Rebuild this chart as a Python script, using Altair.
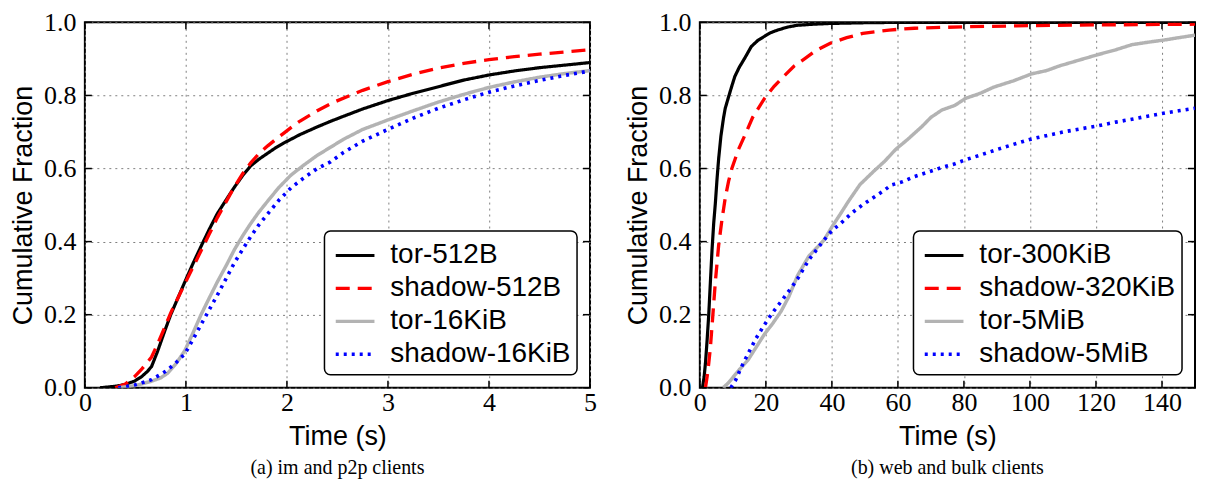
import altair as alt
import pandas as pd

# ---------------- data: panel (a) ----------------
series_a = ["tor-512B", "shadow-512B", "tor-16KiB", "shadow-16KiB"]

tor512_t = [0.15, 0.30, 0.40, 0.49, 0.56, 0.62, 0.66, 0.72, 0.79, 0.85, 0.92, 0.99, 1.07, 1.15, 1.23, 1.31,
            1.40, 1.48, 1.56, 1.64, 1.72, 1.81, 1.89, 1.97, 2.13, 2.30, 2.43, 2.56, 2.75, 3.00, 3.25, 3.50,
            3.75, 4.00, 4.25, 4.50, 4.75, 5.00]
tor512_f = [0.0, 0.004, 0.009, 0.018, 0.03, 0.045, 0.058, 0.10, 0.155, 0.20, 0.245, 0.29, 0.34, 0.387, 0.433,
            0.476, 0.515, 0.549, 0.58, 0.607, 0.625, 0.642, 0.657, 0.67, 0.693, 0.714, 0.729, 0.743, 0.763,
            0.786, 0.806, 0.824, 0.842, 0.856, 0.867, 0.876, 0.883, 0.89]

sh512_t = [0.30, 0.40, 0.49, 0.56, 0.66, 0.72, 0.79, 0.85, 0.92, 0.99, 1.07, 1.15, 1.23, 1.31, 1.40, 1.48,
           1.56, 1.64, 1.72, 1.81, 1.89, 1.97, 2.05, 2.13, 2.30, 2.46, 2.75, 3.00, 3.25, 3.50, 3.75, 4.00,
           4.25, 4.50, 4.75, 5.00]
sh512_f = [0.0, 0.01, 0.03, 0.05, 0.084, 0.12, 0.165, 0.205, 0.245, 0.285, 0.33, 0.375, 0.42, 0.465, 0.51,
           0.55, 0.585, 0.615, 0.64, 0.662, 0.68, 0.697, 0.714, 0.73, 0.758, 0.781, 0.814, 0.838, 0.858,
           0.875, 0.888, 0.898, 0.906, 0.913, 0.919, 0.925]

tor16_t = [0.33, 0.50, 0.66, 0.75, 0.82, 0.90, 0.99, 1.07, 1.15, 1.23, 1.31, 1.40, 1.48, 1.56, 1.64, 1.72,
           1.81, 1.92, 2.04, 2.17, 2.30, 2.43, 2.56, 2.75, 3.00, 3.25, 3.50, 3.75, 4.00, 4.25, 4.50, 4.75, 5.00]
tor16_f = [0.0, 0.006, 0.018, 0.027, 0.04, 0.065, 0.102, 0.15, 0.20, 0.245, 0.289, 0.335, 0.378, 0.415,
           0.449, 0.48, 0.511, 0.548, 0.582, 0.61, 0.636, 0.658, 0.68, 0.707, 0.733, 0.758, 0.782, 0.803,
           0.822, 0.837, 0.85, 0.86, 0.868]

sh16_t = [0.33, 0.50, 0.66, 0.80, 0.90, 0.99, 1.07, 1.15, 1.23, 1.31, 1.40, 1.48, 1.56, 1.64, 1.72, 1.81,
          1.92, 2.04, 2.17, 2.30, 2.43, 2.56, 2.75, 3.00, 3.25, 3.50, 3.75, 4.00, 4.25, 4.50, 4.75, 5.00]
sh16_f = [0.0, 0.008, 0.022, 0.045, 0.068, 0.093, 0.132, 0.173, 0.213, 0.253, 0.30, 0.342, 0.378, 0.413,
          0.445, 0.476, 0.513, 0.547, 0.575, 0.60, 0.618, 0.644, 0.675, 0.707, 0.738, 0.765, 0.788, 0.809,
          0.826, 0.841, 0.855, 0.867]

# ---------------- data: panel (b) ----------------
series_b = ["tor-300KiB", "shadow-320KiB", "tor-5MiB", "shadow-5MiB"]

tor300_t = [0.8, 1.3, 1.7, 2.2, 2.7, 3.2, 3.7, 4.2, 4.7, 5.2, 5.7, 6.4, 7.2, 7.7, 8.7, 9.7, 10.6, 12.0,
            13.6, 14.6, 15.6, 17.5, 19.6, 21.5, 23.6, 26.5, 29.5, 34.6, 39.5, 50, 60, 80, 100, 120, 150]
tor300_f = [0.0, 0.03, 0.067, 0.13, 0.2, 0.29, 0.378, 0.45, 0.505, 0.57, 0.627, 0.69, 0.74, 0.765, 0.796,
            0.826, 0.852, 0.878, 0.902, 0.918, 0.934, 0.95, 0.962, 0.972, 0.979, 0.987, 0.992, 0.995,
            0.997, 0.999, 1.0, 1.0, 1.0, 1.0, 1.0]

sh320_t = [1.7, 2.2, 2.7, 3.2, 3.7, 4.2, 4.7, 5.7, 6.7, 7.7, 8.7, 9.7, 11.6, 13.6, 16.0, 19.6, 22.5,
           25.6, 28.5, 31.5, 35.0, 39.5, 44.5, 49.4, 57.3, 65, 80, 100, 120, 150]
sh320_f = [0.0, 0.03, 0.067, 0.11, 0.17, 0.23, 0.29, 0.39, 0.46, 0.52, 0.565, 0.60, 0.65, 0.69, 0.74,
           0.792, 0.825, 0.854, 0.88, 0.899, 0.922, 0.943, 0.958, 0.97, 0.979, 0.984, 0.988, 0.991,
           0.993, 0.995]

tor5_t = [7.0, 8.5, 9.9, 12.0, 14.6, 17.0, 19.6, 22.0, 24.6, 27.0, 29.6, 33.0, 37.6, 40.0, 42.6, 45.0, 48.5,
          52.5, 56.0, 59.4, 63.0, 67.4, 70.0, 73.3, 77.3, 80.5, 85.0, 89.1, 95.0, 100.5, 105.0, 109.0, 115.0,
          120.7, 126.0, 130.9, 136.0, 140.9, 145.0, 150.0]
tor5_f = [0.0, 0.012, 0.027, 0.05, 0.076, 0.11, 0.147, 0.175, 0.209, 0.25, 0.307, 0.36, 0.404, 0.44, 0.476,
          0.51, 0.556, 0.591, 0.62, 0.653, 0.68, 0.716, 0.74, 0.76, 0.773, 0.792, 0.806, 0.823, 0.84, 0.859,
          0.868, 0.881, 0.897, 0.912, 0.925, 0.939, 0.946, 0.952, 0.958, 0.965]

sh5_t = [9.4, 10.9, 12.5, 14.6, 17.0, 19.6, 22.0, 24.6, 27.0, 29.6, 33.0, 37.6, 40.0, 42.6, 46.0, 49.5, 52.5,
         55.5, 58.0, 61.5, 65.0, 69.4, 73.0, 77.3, 80.5, 85.0, 90.0, 95.0, 100.5, 105.0, 110.0, 115.0, 120.7,
         126.0, 130.9, 136.0, 140.9, 145.0, 150.0]
sh5_f = [0.0, 0.022, 0.055, 0.093, 0.135, 0.173, 0.205, 0.236, 0.265, 0.298, 0.35, 0.404, 0.43, 0.449, 0.478,
         0.502, 0.52, 0.538, 0.555, 0.564, 0.578, 0.591, 0.602, 0.613, 0.624, 0.637, 0.652, 0.666, 0.681,
         0.69, 0.70, 0.708, 0.717, 0.727, 0.735, 0.744, 0.752, 0.758, 0.765]

x_ticks_a = [0, 1, 2, 3, 4, 5]
x_ticks_b = [0, 20, 40, 60, 80, 100, 120, 140]
y_ticks = [0.0, 0.2, 0.4, 0.6, 0.8, 1.0]

captions = ["(a) im and p2p clients", "(b) web and bulk clients"]

colors = ["#000000", "#ff0000", "#b3b3b3", "#0000ff"]
dashes = [[1, 0], [14, 8], [1, 0], [3, 5]]
widths = [3.2, 3.6, 4.2, 3.0]

H = 366
TICK = 7


def panel(series, ts, fs, x_domain, x_ticks, caption, W):
    rows = []
    for name, tl, fl in zip(series, ts, fs):
        for t, f in zip(tl, fl):
            rows.append({"series": name, "t": t, "f": f})
    df = pd.DataFrame(rows)

    xs = alt.Scale(domain=x_domain, nice=False, zero=False)
    ys = alt.Scale(domain=[0, 1], nice=False)
    xax = alt.Axis(values=x_ticks, title="Time (s)", format="d")
    yax = alt.Axis(values=y_ticks, title="Cumulative Fraction", format=".1f")

    lines = alt.Chart(df).mark_line(clip=True).encode(
        x=alt.X("t:Q", scale=xs, axis=xax),
        y=alt.Y("f:Q", scale=ys, axis=yax),
        color=alt.Color("series:N", scale=alt.Scale(domain=series, range=colors),
                        legend=alt.Legend(title=None)),
        strokeDash=alt.StrokeDash("series:N", scale=alt.Scale(domain=series, range=dashes),
                                  legend=alt.Legend(title=None)),
        strokeWidth=alt.StrokeWidth("series:N", scale=alt.Scale(domain=series, range=widths),
                                    legend=alt.Legend(title=None)),
    )

    xt = pd.DataFrame({"t": x_ticks})
    yt = pd.DataFrame({"f": y_ticks})
    bt = alt.Chart(xt).mark_rule(color="black", strokeWidth=1.5).encode(
        x=alt.X("t:Q", scale=xs, axis=xax), y=alt.value(H), y2=alt.value(H - TICK))
    tt = alt.Chart(xt).mark_rule(color="black", strokeWidth=1.5).encode(
        x=alt.X("t:Q", scale=xs, axis=xax), y=alt.value(0), y2=alt.value(TICK))
    lt = alt.Chart(yt).mark_rule(color="black", strokeWidth=1.5).encode(
        y=alt.Y("f:Q", scale=ys, axis=yax), x=alt.value(0), x2=alt.value(TICK))
    rt = alt.Chart(yt).mark_rule(color="black", strokeWidth=1.5).encode(
        y=alt.Y("f:Q", scale=ys, axis=yax), x=alt.value(W - TICK), x2=alt.value(W))

    return alt.layer(lines, bt, tt, lt, rt).properties(
        width=W, height=H,
        title=alt.TitleParams(caption, orient="bottom", anchor="middle", font="Liberation Serif",
                              fontSize=20, fontWeight="normal", color="black", offset=8),
    )


pa = panel(series_a, [tor512_t, sh512_t, tor16_t, sh16_t], [tor512_f, sh512_f, tor16_f, sh16_f],
           [0, 5], x_ticks_a, captions[0], 506)
pb = panel(series_b, [tor300_t, sh320_t, tor5_t, sh5_t], [tor300_f, sh320_f, tor5_f, sh5_f],
           [0, 150], x_ticks_b, captions[1], 496)

chart = alt.hconcat(pa, pb, spacing=110, bounds="flush").resolve_scale(
    color="independent", strokeDash="independent", strokeWidth="independent", x="independent"
).properties(
    padding={"left": 0, "top": 0, "right": 0, "bottom": 0}
).configure_view(
    stroke="black", strokeWidth=2
).configure_axis(
    labelFont="Liberation Serif", labelFontSize=26, labelColor="black",
    titleFont="Liberation Sans", titleFontSize=27, titleFontWeight="normal", titleColor="black",
    grid=True, gridDash=[2, 4], gridColor="#808080", gridWidth=1, gridOpacity=1,
    domain=False, ticks=False, tickSize=0, labelFlush=False, labelOverlap=False,
).configure_axisX(
    labelPadding=2, titlePadding=8,
).configure_axisY(
    labelPadding=9, titlePadding=6,
).configure_legend(
    orient="bottom-right", offset=13, fillColor="white", strokeColor="black", strokeWidth=1.5,
    cornerRadius=6, padding=6, labelFont="Liberation Sans", labelFontSize=28, labelColor="black",
    symbolType="M-0.8,0H1.55", symbolSize=1089, rowPadding=0, labelOffset=23, labelLimit=400,
)

chart.save("out.html", embed_options={"renderer": "svg", "actions": False})
